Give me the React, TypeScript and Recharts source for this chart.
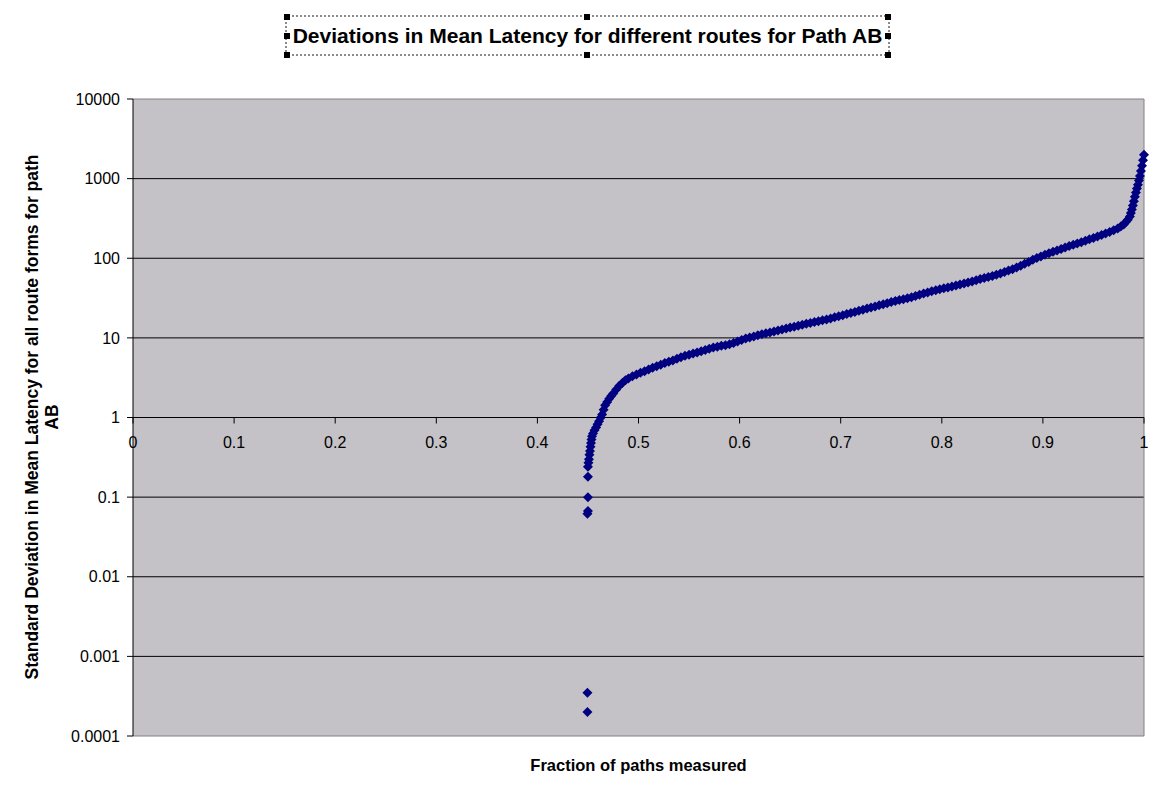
import React from "react";
import {
  ScatterChart,
  Scatter,
  XAxis,
  YAxis,
  CartesianGrid,
  ReferenceLine,
  ReferenceDot,
} from "recharts";

// fraction of paths measured (x) and std deviation of mean latency (y)
const fractionMeasured = [
  0.4495, 0.4495, 0.4495, 0.45, 0.45, 0.45,
  0.45, 0.4505, 0.451, 0.4515, 0.452, 0.4525, 0.453, 0.4535, 0.454, 0.455,
  0.4565, 0.458, 0.4595, 0.461, 0.4625, 0.464, 0.4655, 0.467, 0.469, 0.471,
  0.473, 0.475, 0.478, 0.481, 0.484, 0.487, 0.49, 0.494, 0.498, 0.502,
  0.506, 0.51, 0.514, 0.518, 0.522, 0.526, 0.53, 0.534, 0.538, 0.542,
  0.546, 0.55, 0.554, 0.558, 0.562, 0.566, 0.57, 0.574, 0.578, 0.582,
  0.586, 0.59, 0.594, 0.598, 0.602, 0.606, 0.61, 0.614, 0.618, 0.622,
  0.626, 0.63, 0.634, 0.638, 0.642, 0.646, 0.65, 0.654, 0.658, 0.662,
  0.666, 0.67, 0.674, 0.678, 0.682, 0.686, 0.69, 0.694, 0.698, 0.702,
  0.706, 0.71, 0.714, 0.718, 0.722, 0.726, 0.73, 0.734, 0.738, 0.742,
  0.746, 0.75, 0.754, 0.758, 0.762, 0.766, 0.77, 0.774, 0.778, 0.782,
  0.786, 0.79, 0.794, 0.798, 0.802, 0.806, 0.81, 0.814, 0.818, 0.822,
  0.826, 0.83, 0.834, 0.838, 0.842, 0.846, 0.85, 0.854, 0.858, 0.862,
  0.866, 0.87, 0.874, 0.878, 0.882, 0.886, 0.89, 0.894, 0.898, 0.902,
  0.906, 0.91, 0.914, 0.918, 0.922, 0.926, 0.93, 0.934, 0.938, 0.942,
  0.946, 0.95, 0.954, 0.958, 0.962, 0.966, 0.97, 0.974, 0.977, 0.98,
  0.982, 0.984, 0.986, 0.987, 0.988, 0.989, 0.99, 0.991, 0.992, 0.993,
  0.994, 0.995, 0.996, 0.997, 0.998, 0.999, 1.0,
];

const stdDevLatency = [
  0.0002, 0.00035, 0.062, 0.067, 0.1, 0.18,
  0.24, 0.27, 0.3, 0.34, 0.38, 0.43, 0.48, 0.53, 0.58, 0.63,
  0.69, 0.75, 0.82, 0.9, 0.99, 1.09, 1.25, 1.42, 1.57, 1.72,
  1.86, 2.0, 2.25, 2.5, 2.72, 2.93, 3.1, 3.3, 3.48, 3.65,
  3.82, 4.0, 4.2, 4.4, 4.6, 4.85, 5.0, 5.2, 5.45, 5.7,
  5.95, 6.15, 6.35, 6.55, 6.8, 7.05, 7.3, 7.55, 7.75, 7.95,
  8.1, 8.3, 8.6, 9.0, 9.4, 9.8, 10.1, 10.4, 10.8, 11.1,
  11.4, 11.7, 12.0, 12.4, 12.7, 13.1, 13.5, 13.8, 14.2, 14.6,
  15.0, 15.4, 15.8, 16.2, 16.6, 17.0, 17.5, 18.1, 18.7, 19.3,
  19.9, 20.5, 21.2, 21.9, 22.6, 23.3, 24.0, 24.8, 25.6, 26.4,
  27.3, 28.2, 29.0, 29.8, 30.6, 31.5, 32.4, 33.5, 34.8, 36.0,
  37.2, 38.4, 39.6, 40.8, 42.0, 43.0, 44.2, 45.5, 46.8, 48.2,
  49.7, 51.2, 53.0, 54.8, 56.5, 58.2, 60.0, 62.0, 64.5, 67.0,
  70.0, 73.0, 76.5, 80.5, 85.0, 90.0, 95.5, 100.5, 105.5, 110.5,
  115.5, 120.5, 125.5, 130.5, 136, 142, 147.5, 153, 159, 166,
  173, 180, 188, 196, 205, 214, 224, 236, 250, 266,
  285, 305, 335, 370, 410, 460, 520, 590, 670, 750,
  840, 950, 1080, 1250, 1450, 1700, 2000,
];

const yTicks = [0.0001, 0.001, 0.01, 0.1, 1, 10, 100, 1000, 10000];
const yGridLines = [0.001, 0.01, 0.1, 10, 100, 1000];
const xTicks = [0, 0.1, 0.2, 0.3, 0.4, 0.5, 0.6, 0.7, 0.8, 0.9, 1];

const points = fractionMeasured.map((x, i) => ({ x, y: stdDevLatency[i] }));

const FONT = '"Liberation Sans", Arial, sans-serif';

const Diamond = (props: any) => {
  const { cx, cy } = props;
  const r = 5;
  return (
    <polygon
      points={`${cx},${cy - r} ${cx + r},${cy} ${cx},${cy + r} ${cx - r},${cy}`}
      fill="#000080"
    />
  );
};

// x axis sits on y = 1, so its ticks are drawn at that level
const XTickMark = (props: any) => {
  const { cx, cy, text } = props;
  return (
    <g>
      <line x1={cx} y1={cy} x2={cx} y2={cy + 6} stroke="#000" strokeWidth={1} />
      <text
        x={cx}
        y={cy + 30}
        textAnchor="middle"
        fontSize={16}
        fontFamily={FONT}
        fill="#000"
      >
        {text}
      </text>
    </g>
  );
};

const handle = (left: number, top: number) => (
  <div
    style={{
      position: "absolute",
      left: left - 3,
      top: top - 3,
      width: 6,
      height: 6,
      background: "#000",
    }}
  />
);

export default function App() {
  return (
    <div
      style={{
        position: "absolute",
        left: 0,
        top: 0,
        width: 1163,
        height: 796,
        background: "#fff",
        fontFamily: FONT,
      }}
    >
      <ScatterChart
        width={1163}
        height={796}
        margin={{ top: 99, right: 19, bottom: 0, left: 33 }}
      >
        <CartesianGrid
          horizontal={false}
          vertical={false}
          fill="#C4C2C6"
          fillOpacity={1}
          stroke="none"
        />
        <XAxis
          type="number"
          dataKey="x"
          domain={[0, 1]}
          ticks={xTicks}
          height={60}
          axisLine={false}
          tickLine={false}
          tick={false}
          label={{
            value: "Fraction of paths measured",
            position: "insideTop",
            offset: 23,
            style: { fontSize: 16.5, fontWeight: "bold", fill: "#000", fontFamily: FONT },
          }}
        />
        <YAxis
          type="number"
          dataKey="y"
          scale="log"
          domain={[0.0001, 10000]}
          ticks={yTicks}
          allowDataOverflow
          width={100}
          tickSize={6}
          tickMargin={7}
          interval={0}
          tickFormatter={(v: number) => String(v)}
          axisLine={{ stroke: "#000" }}
          tickLine={{ stroke: "#000" }}
          tick={{ fontSize: 16, fill: "#000", fontFamily: FONT }}
        />
        {yGridLines.map((v) => (
          <ReferenceLine key={v} y={v} stroke="#000" strokeWidth={1} />
        ))}
        <ReferenceLine y={10000} stroke="#808080" />
        <ReferenceLine y={0.0001} stroke="#808080" />
        <ReferenceLine x={1} stroke="#808080" />
        <ReferenceLine y={1} stroke="#000" strokeWidth={1} />
        <Scatter
          data={points}
          shape={Diamond}
          isAnimationActive={false}
        />
        {xTicks.map((t) => (
          <ReferenceDot
            key={t}
            x={t}
            y={1}
            r={0}
            ifOverflow="visible"
            shape={(p: any) => <XTickMark {...p} text={String(t)} />}
          />
        ))}
      </ScatterChart>

      {/* chart title in its selection frame */}
      <div
        style={{
          position: "absolute",
          left: 285,
          top: 15,
          width: 601,
          height: 37,
          border: "2px dotted #8a8a8a",
          display: "flex",
          alignItems: "center",
          justifyContent: "center",
          fontSize: 21,
          fontWeight: "bold",
          color: "#000",
          whiteSpace: "nowrap",
        }}
      >
        Deviations in Mean Latency for different routes for Path AB
      </div>
      {handle(287, 17)}
      {handle(587, 17)}
      {handle(888, 17)}
      {handle(287, 36)}
      {handle(888, 36)}
      {handle(287, 55)}
      {handle(587, 55)}
      {handle(888, 55)}

      {/* y axis title, two lines */}
      <div
        style={{
          position: "absolute",
          left: 42 - 320,
          top: 417 - 20,
          width: 640,
          height: 40,
          lineHeight: "20px",
          textAlign: "center",
          fontSize: 17.5,
          fontWeight: "bold",
          color: "#000",
          transform: "rotate(-90deg)",
          transformOrigin: "center",
          whiteSpace: "nowrap",
        }}
      >
        Standard Deviation in Mean Latency for all route forms for path
        <br />
        AB
      </div>
    </div>
  );
}
